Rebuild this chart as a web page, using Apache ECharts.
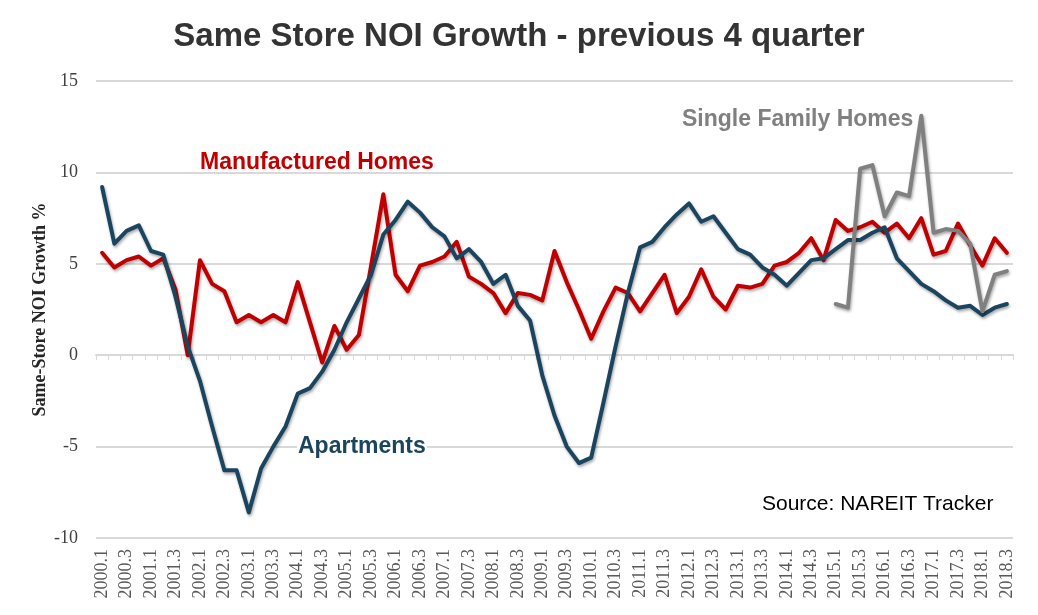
<!DOCTYPE html>
<html>
<head>
<meta charset="utf-8">
<script src="https://cdn.jsdelivr.net/npm/echarts@6/dist/echarts.min.js"></script>
<style>
html,body{margin:0;padding:0;background:#fff;}
#frame{width:1038px;height:615px;box-sizing:border-box;border:1px solid #d9d9d9;position:relative;}
#chart{position:absolute;left:-1px;top:-1px;width:1038px;height:615px;}
</style>
</head>
<body>
<div id="frame"><div id="chart"></div></div>
<script>
// Quarter categories 2000.1 ... 2018.3
var quarters = [];
for (var y = 2000; y <= 2018; y++) {
  for (var q = 1; q <= 4; q++) {
    if (y === 2018 && q > 3) break;
    quarters.push(y + '.' + q);
  }
}

var apartments = [9.2, 6.1, 6.8, 7.1, 5.7, 5.5, 3.2, 0.5, -1.4, -3.9,
  -6.3, -6.3, -8.6, -6.2, -5.0, -3.9, -2.1, -1.8, -0.9, 0.3,
  1.8, 3.1, 4.4, 6.6, 7.4, 8.4, 7.8, 7.0, 6.5, 5.3,
  5.8, 5.1, 3.9, 4.4, 2.7, 1.9, -1.1, -3.3, -5.0, -5.9,
  -5.6, -2.6, 0.5, 3.4, 5.9, 6.2, 7.0, 7.7, 8.3, 7.3,
  7.6, 6.7, 5.8, 5.5, 4.8, 4.4, 3.8, 4.5, 5.2, 5.3,
  5.8, 6.3, 6.3, 6.7, 7.0, 5.3, 4.6, 3.9, 3.5, 3.0,
  2.6, 2.7, 2.2, 2.6, 2.8];

var manufactured = [5.6, 4.8, 5.2, 5.4, 4.9, 5.3, 3.6, 0.0, 5.2, 3.9,
  3.5, 1.8, 2.2, 1.8, 2.2, 1.8, 4.0, 1.8, -0.4, 1.6,
  0.3, 1.1, 4.9, 8.8, 4.4, 3.5, 4.9, 5.1, 5.4, 6.2,
  4.3, 3.9, 3.4, 2.3, 3.4, 3.3, 3.0, 5.7, 4.0, 2.5,
  0.9, 2.4, 3.7, 3.4, 2.4, 3.4, 4.4, 2.3, 3.2, 4.7,
  3.2, 2.5, 3.8, 3.7, 3.9, 4.9, 5.1, 5.6, 6.4, 5.2,
  7.4, 6.8, 7.0, 7.3, 6.7, 7.2, 6.4, 7.5, 5.5, 5.7,
  7.2, 6.0, 4.9, 6.4, 5.6];

var singleFamilyStart = '2015.1';
var singleFamily = [2.8, 2.6, 10.2, 10.4, 7.6, 8.9, 8.7, 13.1, 6.7, 6.9,
  6.8, 6.1, 2.4, 4.4, 4.6];

var yTicks = {min: -10, max: 15, interval: 5};

var sfStartIdx = quarters.indexOf(singleFamilyStart);
var singleFamilyFull = quarters.map(function (c, i) {
  var k = i - sfStartIdx;
  return (k >= 0 && k < singleFamily.length) ? singleFamily[k] : null;
});

var chart = echarts.init(document.getElementById('chart'));
var shadow = {shadowColor: 'rgba(0,0,0,0.35)', shadowBlur: 3, shadowOffsetX: 1, shadowOffsetY: 2};
function lineStyle(color) {
  return Object.assign({color: color, width: 4, join: 'round', cap: 'round'}, shadow);
}

chart.setOption({
  animation: false,
  backgroundColor: '#fff',
  title: {
    text: 'Same Store NOI Growth - previous 4 quarter',
    left: 'center',
    top: 15,
    textStyle: {fontFamily: 'Liberation Sans, Arial', fontWeight: 'bold', fontSize: 33, color: '#333333'}
  },
  grid: {left: 96, right: 25, top: 81, bottom: 77, containLabel: false},
  xAxis: [{
    type: 'category',
    data: quarters,
    boundaryGap: true,
    axisLine: {show: false, onZero: false},
    axisTick: {show: false},
    axisLabel: {
      interval: 1, rotate: 90, margin: 11,
      fontFamily: 'Liberation Serif, Times New Roman', fontSize: 18, color: '#595959'
    },
    splitLine: {show: false}
  }, {
    type: 'category',
    data: quarters,
    boundaryGap: true,
    position: 'bottom',
    axisLine: {show: true, onZero: true, lineStyle: {color: '#d9d9d9', width: 2}},
    axisTick: {show: true, interval: 0, length: 5, lineStyle: {color: '#d9d9d9', width: 1}},
    axisLabel: {show: false},
    splitLine: {show: false}
  }],
  yAxis: {
    type: 'value',
    min: yTicks.min, max: yTicks.max, interval: yTicks.interval,
    name: 'Same-Store NOI Growth %',
    nameLocation: 'middle',
    nameRotate: 90,
    nameGap: 47,
    nameMoveOverlap: false,
    nameTextStyle: {fontFamily: 'Liberation Serif, Times New Roman', fontWeight: 'bold', fontSize: 18, color: '#262626'},
    axisLine: {show: false},
    axisTick: {show: false},
    axisLabel: {margin: 18, fontFamily: 'Liberation Serif, Times New Roman', fontSize: 18, color: '#404040'},
    splitLine: {show: true, lineStyle: {color: '#d9d9d9', width: 2}}
  },
  series: [{
    name: 'Manufactured Homes', type: 'line', xAxisIndex: 0, data: manufactured,
    showSymbol: false, symbol: 'none', lineStyle: lineStyle('#C00000'), z: 3
  }, {
    name: 'Apartments', type: 'line', xAxisIndex: 0, data: apartments,
    showSymbol: false, symbol: 'none', lineStyle: lineStyle('#1B455F'), z: 4
  }, {
    name: 'Single Family Homes', type: 'line', xAxisIndex: 0, data: singleFamilyFull,
    showSymbol: false, symbol: 'none', connectNulls: false, lineStyle: lineStyle('#808080'), z: 5
  }],
  graphic: [{
    type: 'text', x: 200, y: 163, z: 100,
    style: {text: 'Manufactured Homes', fill: '#C00000', font: 'bold 23px "Liberation Sans", Arial', verticalAlign: 'middle'}
  }, {
    type: 'text', x: 297, y: 447, z: 100,
    style: {text: 'Apartments', fill: '#1B455F', font: 'bold 23px "Liberation Sans", Arial', verticalAlign: 'middle',
      backgroundColor: '#ffffff', padding: [2, 1, 2, 1]}
  }, {
    type: 'text', x: 682, y: 120, z: 100,
    style: {text: 'Single Family Homes', fill: '#808080', font: 'bold 23px "Liberation Sans", Arial', verticalAlign: 'middle'}
  }, {
    type: 'text', x: 762, y: 504, z: 100,
    style: {text: 'Source: NAREIT Tracker', fill: '#000000', font: '21px "Liberation Sans", Arial', verticalAlign: 'middle'}
  }]
});
</script>
</body>
</html>
